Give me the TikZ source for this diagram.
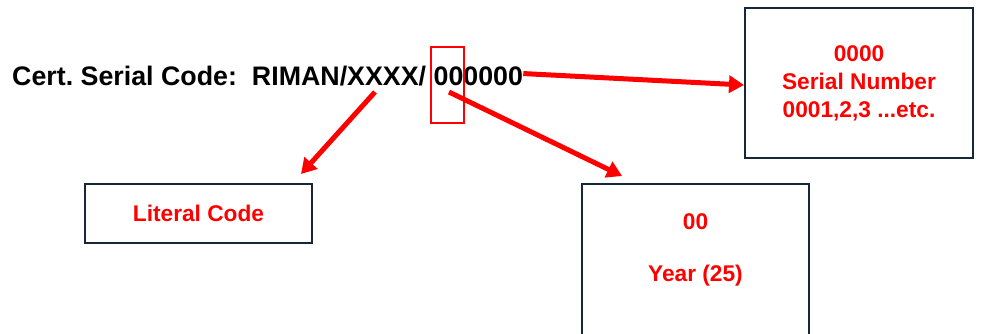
\documentclass[tikz,border=0pt]{standalone}
\usepackage{fontspec}
\setmainfont{Liberation Sans}
\usetikzlibrary{arrows.meta}
\definecolor{boxline}{HTML}{14283A}
\tikzset{
  infobox/.style={draw=boxline,line width=2pt,text=red,font=\bfseries\fontsize{22.7}{28}\selectfont,align=center,inner sep=0pt},
  redarrow/.style={draw=red,line width=5pt,-{Triangle[length=15pt,width=17pt]}}
}
\begin{document}
\begin{tikzpicture}[x=1pt,y=-1pt]
	\useasboundingbox (0,0) rectangle (982,333);
	% code line
	\node[anchor=base west,inner sep=0pt,font=\bfseries\fontsize{26.8}{30}\selectfont] (code) at (12,85) {Cert.\ Serial Code:\ \ RIMAN/XXXX/ 000000};
	\node[draw=red,line width=1.5pt,minimum width=33pt,minimum height=76pt,inner sep=0pt] (digits) at (447.5,85) {};
	% boxes
	\node[infobox,minimum width=228pt,minimum height=150pt] (serial) at (859,83) {0000\\Serial Number\\0001,2,3 ...etc.};
	\node[infobox,minimum width=227pt,minimum height=59pt] (literal) at (198.5,213.5) {Literal Code};
	\node[infobox,anchor=north west,minimum width=227pt,inner sep=30pt,text depth=160pt] (year) at (581,183) {00\\[24pt]Year (25)};
	% arrows
	\coordinate (xxxx) at (375,92);
	\coordinate (yy) at (449,92);
	\draw[redarrow] ([yshift=2pt]code.east) -- ([yshift=-2pt]serial.west);
	\draw[redarrow] (xxxx) -- ([xshift=-12pt,yshift=9pt]literal.north east);
	\draw[redarrow] (yy) -- ([xshift=41pt,yshift=7pt]year.north west);
\end{tikzpicture}
\end{document}
